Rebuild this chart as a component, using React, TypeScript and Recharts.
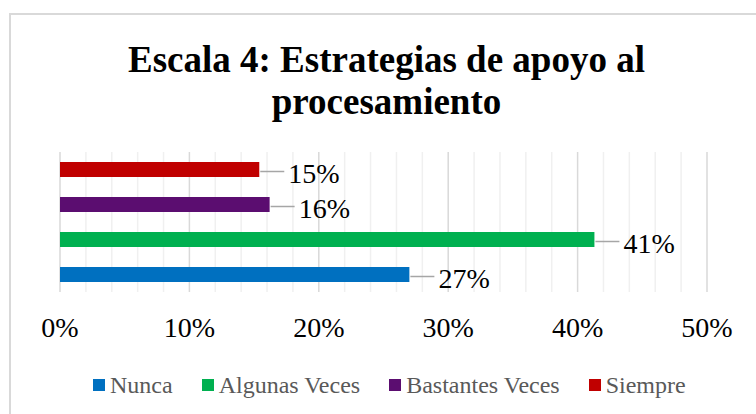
import React from "react";
import { BarChart, Bar, XAxis, YAxis, CartesianGrid, LabelList } from "recharts";

const category = ["Escala 4"];
const seriesNames = ["Nunca", "Algunas Veces", "Bastantes Veces", "Siempre"];
const seriesKeys = ["nunca", "algunas", "bastantes", "siempre"];
const seriesValues = [27.0, 41.3, 16.2, 15.4];
const seriesColors = ["#0070C0", "#00B050", "#5B0D70", "#C00000"];
const majorTicks = [0, 10, 20, 30, 40, 50];
const minorStep = 2;

const row: Record<string, string | number> = { name: category[0] };
seriesKeys.forEach((k, i) => {
  row[k] = seriesValues[i];
});
const data = [row];

const FONT = "'Liberation Serif', 'Times New Roman', serif";
const maxX = majorTicks[majorTicks.length - 1];

function ValueLabel(props: any) {
  const { x, y, width, height, value } = props;
  const endX = x + width;
  const cy = y + height / 2;
  return (
    <g>
      <line x1={endX + 1} y1={cy + 2} x2={endX + 25} y2={cy + 2} stroke="#a6a6a6" strokeWidth={1.5} />
      <text x={endX + 29} y={cy + 13} fontSize={28} fontFamily={FONT} fill="#000">
        {Math.round(value)}%
      </text>
    </g>
  );
}

// light grid lines every 2%
const minorLines = ({ offset }: any) => {
  const out: number[] = [];
  for (let v = 0; v <= maxX; v += minorStep) {
    if (v % 10 !== 0) out.push(offset.left + (v / maxX) * offset.width);
  }
  return out;
};

export default function App() {
  // bars are laid out top to bottom, so the series order is reversed
  const order = [3, 2, 1, 0];
  return (
    <div style={{ position: "absolute", left: 0, top: 0, width: 756, height: 414, overflow: "hidden", background: "#fff" }}>
      <div
        style={{
          position: "absolute",
          left: 9,
          top: 13,
          width: 755,
          height: 420,
          border: "2px solid #d9d9d9",
          boxSizing: "border-box",
        }}
      />
      <div
        style={{
          position: "absolute",
          left: 9,
          top: 39,
          width: 755,
          textAlign: "center",
          fontFamily: FONT,
          fontWeight: "bold",
          fontSize: 37,
          lineHeight: "42px",
          color: "#000",
        }}
      >
        Escala 4: Estrategias de apoyo al
        <br />
        procesamiento
      </div>
      <div style={{ position: "absolute", left: 0, top: 0 }}>
        <BarChart
          width={756}
          height={414}
          data={data}
          layout="vertical"
          margin={{ top: 152, right: 49, left: 60, bottom: 0 }}
          barCategoryGap={3}
          barGap={20}
        >
          <CartesianGrid
            horizontal={false}
            stroke="#f0f0f0"
            strokeWidth={1.5}
            verticalCoordinatesGenerator={minorLines}
          />
          <CartesianGrid horizontal={false} stroke="#d9d9d9" strokeWidth={1.5} />
          <XAxis
            type="number"
            domain={[0, maxX]}
            ticks={majorTicks}
            interval={0}
            tickFormatter={(v) => `${v}%`}
            axisLine={false}
            tickLine={false}
            tickSize={0}
            tickMargin={25}
            height={122}
            tick={{ fontSize: 28, fontFamily: FONT, fill: "#000" }}
          />
          <YAxis type="category" dataKey="name" hide width={0} />
          {order.map((i) => (
            <Bar
              key={seriesKeys[i]}
              dataKey={seriesKeys[i]}
              name={seriesNames[i]}
              fill={seriesColors[i]}
              barSize={15}
              isAnimationActive={false}
            >
              <LabelList dataKey={seriesKeys[i]} content={ValueLabel} />
            </Bar>
          ))}
        </BarChart>
      </div>
      <div
        style={{
          position: "absolute",
          left: 93,
          top: 370,
          display: "flex",
          gap: 29,
          fontFamily: FONT,
          fontSize: 24,
          color: "#595959",
          lineHeight: "30px",
        }}
      >
        {seriesNames.map((n, i) => (
          <div key={n} style={{ display: "flex", alignItems: "center" }}>
            <span style={{ width: 12, height: 12, background: seriesColors[i], marginRight: 5, display: "inline-block" }} />
            {n}
          </div>
        ))}
      </div>
    </div>
  );
}
